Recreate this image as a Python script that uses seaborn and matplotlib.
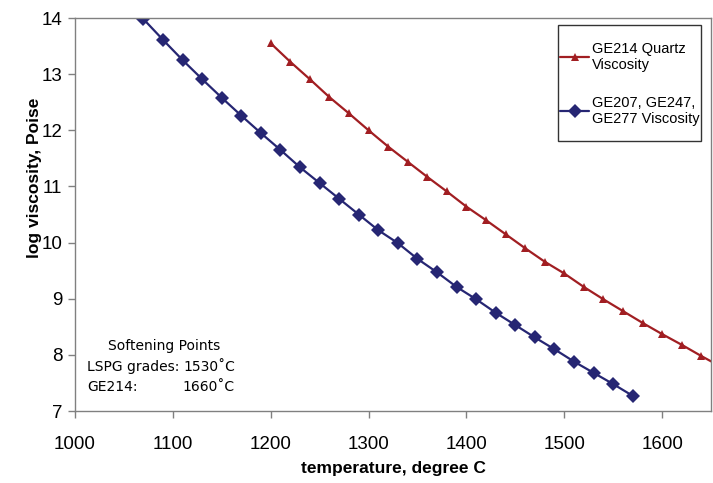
import matplotlib
matplotlib.use("Agg")
import matplotlib.pyplot as plt
from matplotlib.patches import Rectangle
import seaborn as sns
import pandas as pd

# ---- data ----
temp_lspg = [1070, 1090, 1110, 1130, 1150, 1170, 1190, 1210, 1230, 1250, 1270, 1290, 1310,
             1330, 1350, 1370, 1390, 1410, 1430, 1450, 1470, 1490, 1510, 1530, 1550, 1570]
visc_lspg = [13.98, 13.61, 13.25, 12.91, 12.58, 12.26, 11.95, 11.65, 11.34, 11.06, 10.78, 10.50, 10.22,
             9.99, 9.71, 9.47, 9.21, 8.99, 8.75, 8.53, 8.31, 8.10, 7.88, 7.68, 7.48, 7.27]
temp_ge214 = [1200, 1220, 1240, 1260, 1280, 1300, 1320, 1340, 1360, 1380, 1400, 1420, 1440,
              1460, 1480, 1500, 1520, 1540, 1560, 1580, 1600, 1620, 1640, 1660]
visc_ge214 = [13.55, 13.22, 12.91, 12.59, 12.30, 12.00, 11.71, 11.44, 11.17, 10.91, 10.64, 10.40, 10.15,
              9.90, 9.66, 9.45, 9.21, 8.99, 8.78, 8.57, 8.37, 8.18, 7.98, 7.79]
series_names = ["GE214 Quartz\nViscosity", "GE207, GE247,\nGE277 Viscosity"]
x_ticks = [1000, 1100, 1200, 1300, 1400, 1500, 1600]
y_ticks = [7, 8, 9, 10, 11, 12, 13, 14]
x_label = "temperature, degree C"
y_label = "log viscosity, Poise"
note_title = "Softening Points"
note_names = ["LSPG grades:", "GE214:"]
note_values = ["1530˚C", "1660˚C"]

df = pd.concat([
    pd.DataFrame({"temp": temp_ge214, "visc": visc_ge214, "series": series_names[0]}),
    pd.DataFrame({"temp": temp_lspg, "visc": visc_lspg, "series": series_names[1]}),
], ignore_index=True)

sns.set_style("white")
plt.rcParams["font.family"] = ["Liberation Sans", "DejaVu Sans"]
plt.rcParams["text.color"] = "black"
plt.rcParams["axes.labelcolor"] = "black"
plt.rcParams["xtick.color"] = "black"
plt.rcParams["ytick.color"] = "black"

fig = plt.figure(figsize=(7.13, 4.83), dpi=100)
ax = fig.add_axes([75 / 713, 72 / 483, 636 / 713, 393 / 483])

red = "#A11E22"
blue = "#262673"
sns.lineplot(data=df, x="temp", y="visc", hue="series", style="series",
             palette={series_names[0]: red, series_names[1]: blue},
             markers={series_names[0]: "^", series_names[1]: "D"},
             dashes=False, sort=False, estimator=None, ax=ax,
             linewidth=1.6, markeredgewidth=0)
for line in ax.lines:
    if line.get_marker() == "^":
        line.set_markersize(5.5)
    else:
        line.set_markersize(7)

ax.set_xlim(1000, 1650)
ax.set_ylim(7, 14)
ax.set_xticks(x_ticks)
ax.set_yticks(y_ticks)
ax.tick_params(axis="both", which="major", direction="out", length=5, width=1,
               color="#808080", labelcolor="black", labelsize=13.5,
               bottom=True, left=True)
ax.tick_params(axis="x", pad=13)
ax.tick_params(axis="y", pad=4)
for s in ax.spines.values():
    s.set_color("#808080")
    s.set_linewidth(1.0)
ax.set_xlabel(x_label, fontsize=12.5, fontweight="bold", labelpad=6)
ax.set_ylabel(y_label, fontsize=12.5, fontweight="bold")
ax.yaxis.set_label_coords((42 - 75) / 636, (411 - 178) / 393)

# legend
handles, labels = ax.get_legend_handles_labels()
if ax.legend_:
    ax.legend_.remove()
leg = fig.legend(handles, labels, loc="center left", bbox_to_anchor=(560 / 713, 1 - 84 / 483),
                 frameon=False, fontsize=10.5, labelspacing=1.6,
                 handlelength=2.0, handletextpad=0.2, borderpad=0, borderaxespad=0)
for t in leg.get_texts():
    t.set_linespacing(1.25)
fig.patches.append(Rectangle((558 / 713, 1 - 141 / 483), 143 / 713, 116 / 483,
                             transform=fig.transFigure, fill=True, facecolor="white",
                             edgecolor="#333333", linewidth=1.0, zorder=0))

# softening points note
fs = 10
fig.text(164 / 713, 1 - 346 / 483, note_title, fontsize=fs, family="DejaVu Sans", ha="center", va="center")
fig.text(87 / 713, 1 - 367 / 483, note_names[0], fontsize=fs, family="DejaVu Sans", ha="left", va="center")
fig.text(235 / 713, 1 - 367 / 483, note_values[0], fontsize=fs, family="DejaVu Sans", ha="right", va="center")
fig.text(87 / 713, 1 - 387 / 483, note_names[1], fontsize=fs, family="DejaVu Sans", ha="left", va="center")
fig.text(235 / 713, 1 - 387 / 483, note_values[1], fontsize=fs, family="DejaVu Sans", ha="right", va="center")

fig.savefig("out.png", dpi=100)
